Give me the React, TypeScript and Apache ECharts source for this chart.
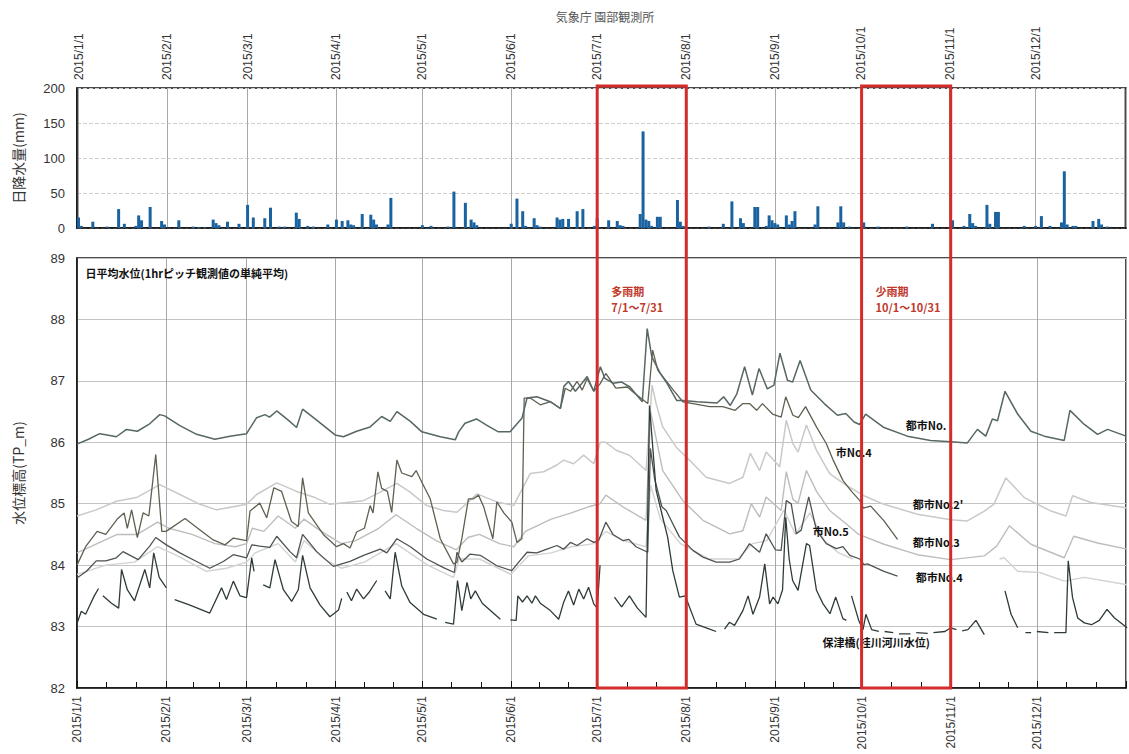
import React, { useEffect, useRef } from 'react';
import * as echarts from 'echarts';

const TITLE = '気象庁 園部観測所';
const RAIN_NAME = '日降水量(mm)';
const LEVEL_NAME = '水位標高(TP_m)';
const NOTE = '日平均水位(1hrピッチ観測値の単純平均)';

// daily rainfall [month, day, mm]
const RAIN: [number, number, number][] = [
  [1,1,15],[1,2,3],[1,6,9],[1,11,2],[1,15,27],[1,17,6],[1,21,3],[1,22,18],[1,23,11],[1,26,30],[1,30,10],[1,31,5],
  [2,5,11],[2,10,2],[2,12,1],[2,14,1],[2,17,12],[2,18,7],[2,19,4],[2,22,9],[2,26,6],
  [3,1,33],[3,3,15],[3,7,14],[3,9,29],[3,12,2],[3,14,2],[3,18,22],[3,19,13],[3,22,3],[3,24,2],[3,29,5],
  [4,1,12],[4,3,10],[4,5,11],[4,6,5],[4,7,4],[4,10,20],[4,13,19],[4,14,12],[4,15,5],[4,19,5],[4,20,43],
  [5,1,4],[5,4,3],[5,10,2],[5,12,52],[5,16,36],[5,18,12],[5,19,8],[5,20,4],
  [6,1,6],[6,3,42],[6,5,24],[6,6,3],[6,9,14],[6,10,4],[6,11,2],[6,17,15],[6,18,12],[6,19,13],[6,21,13],[6,24,24],[6,26,27],[6,30,3],
  [7,1,14],[7,5,11],[7,8,10],[7,9,4],[7,10,3],[7,16,20],[7,17,138],[7,18,12],[7,19,10],[7,20,3],[7,22,16],[7,23,16],[7,29,40],[7,30,9],[7,31,3],
  [8,9,2],[8,14,6],[8,17,38],[8,20,14],[8,21,7],[8,25,30],[8,26,30],[8,29,3],[8,30,18],[8,31,11],
  [9,1,7],[9,2,5],[9,5,18],[9,6,5],[9,7,10],[9,8,24],[9,15,5],[9,16,31],[9,23,8],[9,24,31],[9,25,8],[9,27,2],
  [10,2,8],[10,7,2],[10,17,2],[10,26,6],
  [11,2,11],[11,6,3],[11,8,20],[11,9,7],[11,10,3],[11,14,33],[11,15,6],[11,17,23],[11,18,23],[11,27,3],
  [12,1,3],[12,3,17],[12,6,3],[12,10,8],[12,11,81],[12,12,5],[12,14,3],[12,15,3],[12,21,10],[12,23,13],[12,24,5],[12,26,2],
];

type Pt = [number, number] | null; // [day of year (0 = Jan 1), level]

const TOSHI_1: Pt[] = [
  [0,85.97],[4,86.05],[7.9,86.14],[10.5,86.12],[13.7,86.09],[17.2,86.21],[21,86.18],[25,86.29],[28.8,86.45],[30.5,86.43],[35.8,86.27],[41.6,86.13],[48,86.05],[53.2,86.1],[59,86.14],[62.5,86.4],[65.4,86.45],[67,86.41],[69.5,86.51],[73.5,86.36],[76.4,86.24],[78.5,86.54],[83.4,86.36],[89.8,86.12],[92.7,86.09],[97.3,86.18],[102,86.25],[106,86.42],[109,86.34],[111.3,86.5],[116,86.34],[120,86.17],[126.4,86.09],[131.6,86.04],[132.8,86.17],[135,86.31],[139,86.38],[142.5,86.28],[146.6,86.17],[150.7,86.17],[154.8,86.39],[156.6,86.72],[160,86.74],[164.7,86.66],[168.2,86.55],[169.4,86.91],[171,86.99],[173.4,86.83],[175.7,86.96],[177.5,87.07],[179.8,86.83],[182.1,87.23],[183.7,87.04],[186.6,86.96],[189.5,86.98],[192.4,86.9],[196.7,86.66],[198.4,87.85],[200,87.39],[203,87.12],[205.3,86.96],[208.7,86.68],[211,86.68],[215.7,86.66],[222.7,86.64],[225,86.74],[227.3,86.6],[229.6,86.79],[232.3,87.23],[235,86.77],[237.3,87.2],[240.2,86.87],[242.5,86.93],[244.6,87.45],[247.2,87.01],[249,86.98],[251.6,87.33],[255.3,86.85],[260,86.63],[264.6,86.44],[267.5,86.47],[270.4,86.33],[272.3,86.29],[274.4,86.46],[280.8,86.24],[288.9,86.1],[297,86.03],[304,86.01],[309.8,85.99],[313.3,86.21],[316.2,86.1],[318.5,86.38],[320.3,86.35],[322.9,86.83],[327.3,86.46],[331.9,86.18],[336.6,86.1],[343.5,86.03],[345.5,86.52],[350.5,86.29],[355.1,86.13],[358.6,86.21],[365,86.1],
];

const SHI_4: Pt[] = [
  [0,84.0],[3,84.3],[7,84.55],[10,84.5],[14,84.75],[16.4,84.85],[17.5,84.6],[19,84.9],[21,84.45],[23,84.85],[25,84.8],[27.4,85.8],[29.5,84.55],[31,84.55],[37.6,84.76],[42,84.6],[47.4,84.41],[51.5,84.33],[54.4,84.44],[59,84.4],[60.2,84.88],[63.6,85.01],[66,84.77],[68.5,85.26],[71.2,85.2],[74.6,84.71],[77,84.63],[78.5,85.42],[80.5,84.85],[85.7,84.5],[90.3,84.3],[92.7,84.35],[95,84.28],[97.3,84.54],[100,84.6],[102,84.97],[103,84.85],[104.7,85.52],[106,85.25],[108,85.2],[109.5,84.86],[111.3,85.71],[113,85.5],[116.5,85.44],[118,85.54],[120,85.35],[122.9,85.08],[126.4,84.43],[131,84.02],[132.2,84.05],[133.9,84.43],[136.2,85.08],[138,85.08],[139.7,85.14],[141.5,84.95],[144.7,84.43],[146.1,85.03],[148.5,84.85],[151.3,84.7],[153.1,84.37],[154.8,84.43],[155.6,86.72],[157.7,86.72],[161.2,86.61],[164.7,86.66],[168.2,86.55],[169.9,86.88],[171.7,86.83],[174,86.99],[175.8,86.85],[177.5,87.04],[179.8,86.83],[182,86.95],[184,87.12],[187.5,86.88],[191.5,86.9],[194,86.8],[198.6,86.63],[200.3,87.5],[202.1,87.17],[205,87.0],[207.5,86.85],[210.8,86.66],[214.3,86.63],[220.1,86.58],[224.7,86.58],[229,86.52],[231.7,86.63],[234,86.63],[236.5,86.52],[238.5,86.63],[242,86.46],[245,86.41],[246.6,86.74],[249.1,86.44],[251,86.4],[253.5,86.58],[257.3,86.25],[260.7,85.98],[263.1,85.71],[266.5,85.38],[269.5,85.2],[272.4,85.05],[273.6,84.93],[276.2,84.96],[280.8,84.72],[285.5,84.42],
];

const SHI_5: Pt[] = [
  [0,83.79],[3.3,83.9],[6.7,84.07],[10,84.07],[13.7,84.12],[16,84.22],[21.3,84.09],[25.3,84.31],[27.4,84.45],[31.1,84.33],[35.8,84.2],[41.6,84.06],[46.2,83.95],[50.9,84.06],[54.4,84.17],[59,84.12],[60.8,84.33],[63.6,84.31],[67.1,84.29],[69.5,84.47],[74.1,84.22],[76.4,84.12],[78.5,84.5],[83.4,84.22],[89.2,83.98],[95,84.06],[99.7,84.16],[105.5,84.26],[107.8,84.2],[111.3,84.43],[116,84.3],[121.7,84.1],[127.5,83.96],[131.3,83.88],[132.2,84.21],[133.9,84.05],[136.8,84.18],[140.3,84.16],[146.1,83.99],[151.3,83.91],[153.7,84.05],[156.6,84.21],[160,84.2],[163.5,84.26],[167,84.32],[169.3,84.26],[171.7,84.37],[174,84.32],[177.5,84.43],[179.8,84.37],[181.5,84.4],[184,84.7],[186.5,84.5],[189.9,84.4],[192,84.42],[194.5,84.3],[198.6,84.21],[199.5,85.9],[201,85.4],[203.5,84.95],[205,84.89],[209.6,84.46],[212,84.35],[214.3,84.24],[217.8,84.13],[222.4,84.05],[227.1,84.05],[230.5,84.1],[234,84.35],[237.5,84.21],[239.8,84.51],[243,84.25],[245,84.24],[246.8,85.05],[248.5,85.0],[250.3,84.51],[252,84.57],[254.6,85.11],[257.3,84.57],[260.7,84.35],[264.2,84.27],[266.5,84.3],[268.9,84.16],[272.4,84.1],[273.8,84.01],[275,84.02],[280.8,83.9],[285.5,83.82],
];

const TOSHI_2D: Pt[] = [
  [0,84.8],[6.7,84.9],[13.7,85.04],[20.7,85.1],[28.8,85.31],[35.8,85.15],[42.8,84.99],[48.6,84.9],[59,84.99],[62.5,85.15],[69.5,85.34],[76.4,85.2],[82.8,85.1],[88,84.99],[99.7,85.05],[105.5,85.19],[111.3,85.33],[115.9,85.19],[121.7,84.97],[127.5,84.89],[132.2,84.86],[139.2,85.16],[146.1,85.03],[151.9,84.97],[157.7,85.49],[162.4,85.52],[167,85.63],[169.3,85.71],[172.8,85.65],[176.3,85.79],[179.8,85.65],[182.1,86.0],[184,86.0],[187.6,85.87],[192.2,85.79],[198,85.54],[200.1,86.93],[201.5,86.63],[203.8,86.25],[208.5,85.92],[213.1,85.71],[218.9,85.43],[227.1,85.33],[231.7,85.43],[234.3,85.82],[237.5,85.54],[239.8,85.84],[244.5,85.6],[246.8,86.36],[249.1,85.98],[250.9,85.84],[253.8,86.28],[257.3,85.87],[261.9,85.49],[267.7,85.3],[273.8,85.13],[280.8,84.99],[292.4,84.83],[304,84.74],[309.8,84.72],[315.7,84.88],[319,84.99],[323.2,85.42],[329.6,85.1],[338.9,84.88],[344.1,84.8],[346.4,85.13],[352.8,85.02],[365.4,84.93],
];

const TOSHI_3: Pt[] = [
  [0,84.2],[7,84.35],[14,84.5],[21,84.5],[28,84.7],[32,84.6],[40,84.5],[48,84.35],[55,84.3],[59,84.35],[61,84.6],[65,84.55],[70,84.8],[76,84.6],[79,84.75],[85,84.55],[92,84.35],[97,84.4],[105,84.6],[111,84.82],[118,84.6],[125,84.4],[132,84.25],[136,84.45],[140,84.5],[147,84.35],[152,84.3],[156,84.55],[165,84.75],[172,84.85],[178,84.95],[182,85.0],[184,85.14],[189.9,84.95],[198,84.73],[199.6,86.5],[203.8,85.54],[210.8,85.05],[217.8,84.73],[227.1,84.51],[231.7,84.56],[234.6,85.0],[237.5,84.78],[239.8,85.11],[245,84.89],[246.8,85.52],[249.1,85.07],[250.9,85.01],[253.8,85.54],[257.3,85.2],[261.9,84.89],[267.7,84.67],[272,84.5],[280.8,84.34],[292.4,84.17],[304,84.09],[315.7,84.15],[320,84.31],[324.4,84.64],[331.9,84.34],[343.5,84.12],[346.8,84.47],[355.1,84.36],[365.4,84.26],
];

const TOSHI_4: Pt[] = [
  [0,83.85],[10,84.0],[20,84.05],[28,84.3],[35,84.15],[45,83.9],[52,83.95],[59,84.05],[62,84.2],[70,84.35],[76,84.05],[79,84.4],[86,84.1],[92,83.95],[100,84.05],[111,84.35],[122,84.0],[131,83.8],[133,84.1],[140,84.1],[151,83.85],[157,84.15],[165,84.2],[172,84.3],[180,84.35],[184,84.55],[190,84.4],[198,84.3],[199.6,85.3],[203,84.75],[210,84.35],[220,84.1],[230,84.1],[235,84.35],[240,84.4],[246,84.9],[250,84.5],[255,84.85],[260,84.4],[265,84.2],[270,84.1],null,
  [321,84.1],[322.6,84.12],[327.3,83.9],[335,83.88],[343.5,83.74],[350.5,83.8],[365.4,83.68],
];

const HOZU: Pt[] = [
  [0,83.05],[1.5,83.25],[3,83.2],[4.5,83.35],[6,83.5],[7.5,83.62],null,
  [9,83.5],[12,83.38],[14.5,83.3],[15.5,83.93],[17.5,83.6],[20,83.42],[22,83.7],[23.6,83.93],[25.3,83.63],[26.7,84.2],[28.6,83.8],[31.1,83.63],null,
  [34,83.44],[39.3,83.35],[46.2,83.22],[50.3,83.63],[52,83.44],[54.4,83.74],[56.7,83.5],[59,83.47],[60.8,84.12],[61.6,83.9],null,
  [64.8,83.68],[67.1,83.63],[68.9,84.09],[71.8,83.6],[74.7,83.41],[77,83.6],[78.5,84.16],[81.1,83.63],[84.6,83.35],[88,83.16],[91,83.27],[92.1,83.46],null,
  [93.9,83.56],[95.5,83.42],[97.3,83.61],[99.7,83.45],[101.5,83.55],[104.3,83.75],null,
  [107.2,83.58],[109,83.45],[110.7,84.21],[113,83.66],[115.9,83.39],[120.6,83.2],[125.2,83.12],null,
  [128.1,83.07],[131,83.04],[132.4,83.75],[133.9,83.26],[135.7,83.72],[137,83.45],[138.6,83.58],[141,83.38],[147.3,83.12],null,
  [150.8,83.11],[152.8,83.1],[153.4,83.5],[155,83.4],[156.6,83.5],[158.3,83.38],[159.5,83.5],[161.2,83.38],[164.7,83.26],[167.6,83.12],[169.3,83.39],[171,83.58],[172.8,83.35],[174.6,83.61],[176.3,83.45],[178,83.64],[179.8,83.37],[181,83.3],[182,84.0],null,
  [187,83.48],[189.5,83.32],[192.2,83.5],[195,83.3],[198,83.15],[199.2,86.6],[201.5,85.22],[203.8,84.78],[205.5,84.46],[207.3,83.91],[209.6,83.48],[211.7,83.5],[213.1,83.32],[215.4,83.04],[220.1,82.96],[222.4,82.92],null,
  [225.3,82.96],[227,83.07],[228.8,83.02],[231.7,83.26],[233.5,83.5],[235.2,83.2],[237.5,83.48],[239.3,84.02],[241,83.37],[242.2,83.48],[243.9,83.37],[245.5,83.6],[246.6,84.78],[247.8,84.1],[249,83.75],[250.9,83.59],[253.8,84.35],[254.9,84.32],[257.3,83.59],[259.6,83.37],[262,83.21],[264,83.48],[266.5,83.13],[267.7,83.1],null,
  [269.5,83.5],[272,83.1],[273.5,82.95],[274.5,83.2],[276.5,82.95],[279,82.92],null,
  [281,82.92],[284,82.9],null,[286,82.88],[290,82.88],null,[292,82.9],[296,82.89],null,[298,82.9],[302,82.92],[304,82.98],[306,82.95],null,
  [308,82.93],[310,82.95],[312.8,83.1],[315.7,82.87],null,
  [322.9,83.58],[325,83.2],[327.3,82.98],null,[330,82.9],[332,82.9],null,[334,82.92],[338,82.9],null,
  [340,82.9],[344.1,82.9],[344.9,84.07],[346.4,83.47],[348.2,83.14],[350.5,83.06],[353,83.03],[355.7,83.1],[358.4,83.28],[361,83.14],[365.4,82.98],
];

// label text, day of year, level (left edge / vertical centre)
const LINE_LABELS: [string, number, number][] = [
  ['都市No.', 288.4, 86.28],
  ['市No.4', 264, 85.84],
  ["都市No.2'", 290.8, 85.0],
  ['市No.5', 256, 84.55],
  ['都市No.3', 290.8, 84.37],
  ['都市No.4', 291.8, 83.8],
  ['保津橋(桂川河川水位)', 259.4, 82.75],
];

const PERIODS = [
  { start: [7, 1], end: [8, 1], title: '多雨期', range: '7/1～7/31' },
  { start: [10, 1], end: [11, 1], title: '少雨期', range: '10/1～10/31' },
];

const DAY = 86400000;
const T0 = new Date(2015, 0, 1).getTime();
const ts = (d: number) => T0 + d * DAY;
const md = (m: number, d: number) => new Date(2015, m - 1, d).getTime();

const toData = (pts: Pt[]) => {
  const out: any[] = [];
  let prev = T0;
  for (const p of pts) {
    if (p === null) out.push([prev + 1000, null]);
    else { prev = ts(p[0]); out.push([prev, p[1]]); }
  }
  return out;
};

const LINES = [
  { name: '都市No.4', data: TOSHI_4, color: '#d2d2d2', width: 1.4 },
  { name: '都市No.3', data: TOSHI_3, color: '#bdbdbd', width: 1.4 },
  { name: "都市No.2'", data: TOSHI_2D, color: '#c9c9c9', width: 1.5 },
  { name: '市No.5', data: SHI_5, color: '#4c5352', width: 1.3 },
  { name: '市No.4', data: SHI_4, color: '#5e6150', width: 1.3 },
  { name: '保津橋', data: HOZU, color: '#2e3b3a', width: 1.3 },
  { name: '都市No.', data: TOSHI_1, color: '#566764', width: 1.5 },
];

const NUM_FONT = 'Liberation Sans';
const JP_FONT = 'Noto Sans CJK JP';

const dateFmt = (v: number) => {
  const d = new Date(v);
  if (d.getFullYear() !== 2015) return '';
  return `${d.getFullYear()}/${d.getMonth() + 1}/${d.getDate()}`;
};

export default function App() {
  const ref = useRef<HTMLDivElement>(null);
  useEffect(() => {
    if (!ref.current) return;
    const chart = echarts.init(ref.current, undefined, { renderer: 'svg' });
    const xMin = md(1, 1);
    const xMax = new Date(2016, 0, 1).getTime();
    const xCommon = {
      type: 'time' as const,
      min: xMin,
      max: xMax,
      splitNumber: 12,
      minInterval: 28 * DAY,
      maxInterval: 31 * DAY,
      axisLine: { show: true, lineStyle: { color: '#111', width: 1.5 } },
      splitLine: { show: true, lineStyle: { color: '#a8a8a8', width: 1 } },
      axisLabel: {
        rotate: 90,
        formatter: dateFmt,
        color: '#333',
        fontSize: 12,
        fontFamily: NUM_FONT,
        margin: 8,
        showMinLabel: true,
        hideOverlap: false,
      },
    };
    chart.setOption({
      animation: false,
      backgroundColor: '#fff',
      title: {
        text: TITLE,
        left: 600,
        top: 5,
        textAlign: 'center',
        textStyle: { fontSize: 12, fontWeight: 'normal', color: '#555', fontFamily: JP_FONT },
      },
      grid: [
        { left: 77, right: 3, top: 88, height: 140, show: true, borderColor: '#111', borderWidth: 1.5, containLabel: false },
        { left: 77, right: 3, top: 258, height: 430, show: true, borderColor: '#111', borderWidth: 1.5, containLabel: false },
      ],
      xAxis: [
        { ...xCommon, gridIndex: 0, position: 'top', axisTick: { show: false } },
        {
          ...xCommon,
          gridIndex: 1,
          position: 'bottom',
          axisTick: { show: true, inside: true, length: 7, lineStyle: { color: '#111' } },
          minorTick: { show: true, splitNumber: 3, length: 6, lineStyle: { color: '#111' } },
        },
      ],
      yAxis: [
        {
          type: 'value', gridIndex: 0, min: 0, max: 200, interval: 50,
          name: RAIN_NAME, nameLocation: 'middle', nameGap: 52, nameRotate: 90,
          nameTextStyle: { fontSize: 14, color: '#333', fontFamily: JP_FONT },
          axisLine: { show: true, lineStyle: { color: '#111', width: 1.5 } },
          axisTick: { show: false },
          axisLabel: { color: '#333', fontSize: 13, fontFamily: NUM_FONT, margin: 12 },
          splitLine: { show: true, lineStyle: { color: '#cfcfcf', type: 'dashed', width: 1 } },
        },
        {
          type: 'value', gridIndex: 1, min: 82, max: 89, interval: 1,
          name: LEVEL_NAME, nameLocation: 'middle', nameGap: 52, nameRotate: 90,
          nameTextStyle: { fontSize: 14, color: '#333', fontFamily: JP_FONT },
          axisLine: { show: true, lineStyle: { color: '#111', width: 1.5 } },
          axisTick: { show: false },
          axisLabel: { color: '#333', fontSize: 13, fontFamily: NUM_FONT, margin: 12 },
          splitLine: { show: true, lineStyle: { color: '#c4c4c4', width: 1 } },
        },
      ],
      series: [
        {
          type: 'bar', name: RAIN_NAME, xAxisIndex: 0, yAxisIndex: 0,
          barWidth: 3,
          itemStyle: { color: '#1a63a0' },
          data: RAIN.map(([m, d, v]) => [md(m, d), v]),
        },
        ...LINES.map((l) => ({
          type: 'line', name: l.name, xAxisIndex: 1, yAxisIndex: 1,
          showSymbol: false, symbol: 'none', connectNulls: false,
          lineStyle: { color: l.color, width: l.width },
          data: toData(l.data),
        })),
      ],
    });

    const px = (d: number, v: number) =>
      chart.convertToPixel({ xAxisIndex: 1, yAxisIndex: 1 }, [ts(d), v]) as number[];
    const topY = (chart.convertToPixel({ yAxisIndex: 0 }, 200) as number) - 2;
    const botY = px(0, 82)[1];
    const graphics: any[] = [];
    PERIODS.forEach((p) => {
      const x1 = chart.convertToPixel({ xAxisIndex: 1 }, md(p.start[0], p.start[1])) as number;
      const x2 = chart.convertToPixel({ xAxisIndex: 1 }, md(p.end[0], p.end[1])) as number;
      graphics.push({
        type: 'rect', z: 100,
        shape: { x: x1, y: topY, width: x2 - x1, height: botY - topY },
        style: { fill: 'none', stroke: '#d42b2b', lineWidth: 3 },
      });
      const y1 = px(0, 88.47)[1];
      const y2 = px(0, 88.21)[1];
      [[p.title, y1], [p.range, y2]].forEach(([t, y]) => {
        graphics.push({
          type: 'text', z: 101, x: x1 + 14, y: y as number,
          style: {
            text: t as string,
            fill: '#c0392b', font: `bold 11px "${JP_FONT}"`,
            textAlign: 'left', textVerticalAlign: 'middle', align: 'left', verticalAlign: 'middle',
          },
        });
      });
    });
    LINE_LABELS.forEach(([t, d, v]) => {
      const [x, y] = px(d, v);
      graphics.push({
        type: 'text', z: 99, x, y,
        style: {
          text: t, fill: '#111', font: `bold 11px "${JP_FONT}"`,
          textAlign: 'left', textVerticalAlign: 'middle', align: 'left', verticalAlign: 'middle',
        },
      });
    });
    {
      const [x, y] = px(3, 88.75);
      graphics.push({
        type: 'text', z: 99, x, y,
        style: {
          text: NOTE, fill: '#111', font: `bold 11px "${JP_FONT}"`,
          textAlign: 'left', textVerticalAlign: 'middle', align: 'left', verticalAlign: 'middle',
        },
      });
    }
    chart.setOption({ graphic: graphics });

    return () => chart.dispose();
  }, []);
  return (
    <div
      ref={ref}
      style={{ position: 'fixed', left: 0, top: 0, width: 1129, height: 754, background: '#fff' }}
    />
  );
}
